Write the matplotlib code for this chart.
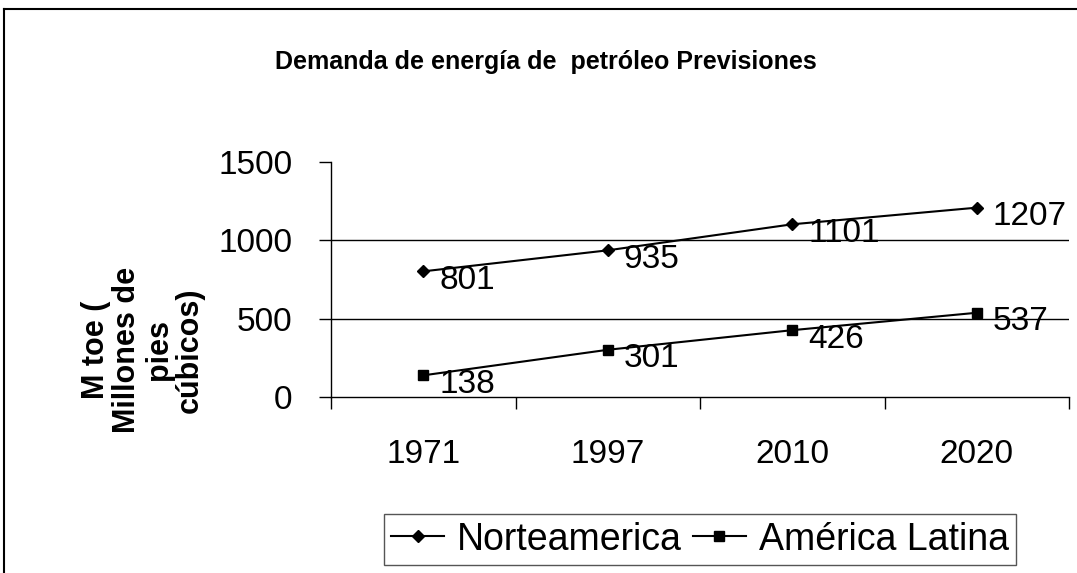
import numpy as np
import matplotlib
matplotlib.use("Agg")
import matplotlib.pyplot as plt
from matplotlib.lines import Line2D

# data
years = ["1971", "1997", "2010", "2020"]
norteamerica = [801, 935, 1101, 1207]
america_latina = [138, 301, 426, 537]
series_names = ["Norteamerica", "América Latina"]
y_ticks = [0, 500, 1000, 1500]
title = "Demanda de energía de  petróleo Previsiones"
y_label = "M toe (\nMillones de\npies\ncúbicos)"

plt.rcParams['font.family'] = ['Liberation Sans', 'DejaVu Sans']

W, H = 1077, 573
fig = plt.figure(figsize=(W / 100, H / 100), dpi=100)
ax = fig.add_axes([331 / W, 1 - 397 / H, (1069 - 331) / W, (397 - 161.7) / H])

x = np.arange(len(years))
ax.plot(x, norteamerica, color='black', lw=1.5, marker='D', ms=6, label=series_names[0])
ax.plot(x, america_latina, color='black', lw=1.5, marker='s', ms=7, label=series_names[1])

### data labels
for vals in (norteamerica, america_latina):
    for xi, v in zip(x, vals):
        ax.annotate(str(v), (xi, v), xytext=(16, -9), textcoords='offset pixels',
                    ha='left', va='center', fontsize=24, annotation_clip=False)

### axes styling
ax.set_ylim(0, 1500)
ax.set_xlim(-0.5, len(years) - 0.5)
ax.set_yticks(y_ticks)
for t in y_ticks[1:-1]:
    ax.axhline(t, color='black', lw=1, zorder=0)
ax.tick_params(axis='y', direction='out', length=8.6, width=1, labelsize=24, pad=19)

ax.set_xticks(np.arange(len(years) + 1) - 0.5)
ax.set_xticklabels([])
ax.tick_params(axis='x', which='major', direction='out', length=8.6, width=1)
ax.set_xticks(x, minor=True)
ax.set_xticklabels(years, minor=True)
ax.tick_params(axis='x', which='minor', length=0, labelsize=24, pad=30)

for s in ['top', 'right']:
    ax.spines[s].set_visible(False)
for s in ['left', 'bottom']:
    ax.spines[s].set_linewidth(1)

### texts
fig.text(546 / W, 1 - 62 / H, title, ha='center', va='center', fontsize=18, fontweight='bold')
fig.text(143 / W, 1 - 350 / H, y_label, rotation=90, ha='center', va='center',
         multialignment='center', fontsize=22, fontweight='bold', linespacing=1.05)

### legend
leg = fig.legend(loc='center', bbox_to_anchor=(700 / W, 1 - 539.5 / H), ncol=2, fontsize=27,
                 fancybox=False, edgecolor='#555555', framealpha=1, handlelength=1.4,
                 handletextpad=0.35, columnspacing=0.3, borderpad=0.2, borderaxespad=0)
leg.get_frame().set_linewidth(1)

### chart border (left and top)
fig.add_artist(Line2D([4 / W, 4 / W], [0, 1 - 9 / H], transform=fig.transFigure, color='black', lw=1.5))
fig.add_artist(Line2D([4 / W, 1], [1 - 9 / H, 1 - 9 / H], transform=fig.transFigure, color='black', lw=1.5))

fig.savefig("out.png", dpi=100)
